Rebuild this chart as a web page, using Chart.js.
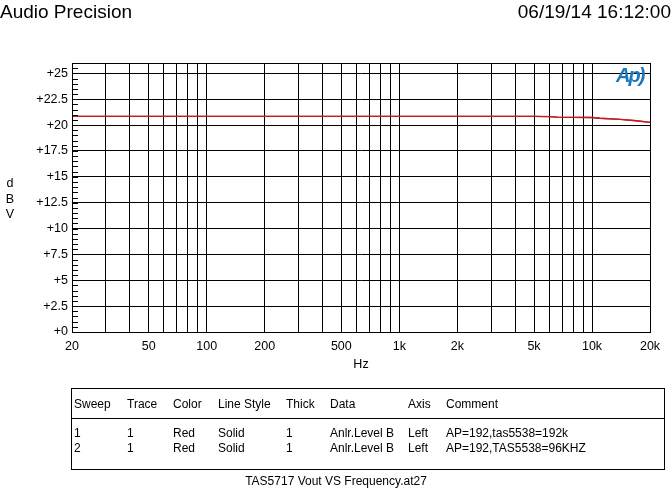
<!DOCTYPE html>
<html>
<head>
<meta charset="utf-8">
<script src="https://cdn.jsdelivr.net/npm/chart.js@4.4.1/dist/chart.umd.min.js"></script>
<style>
  html, body { margin:0; padding:0; background:#fff; }
  #wrap { position:relative; width:672px; height:494px; overflow:hidden; font-family:"Liberation Sans", Arial, sans-serif; color:#000; }
  canvas { position:absolute; left:0; top:0; }
  .abs { position:absolute; white-space:nowrap; line-height:1; }
  #hdrL { left:0; top:2px; font-size:19px; }
  #hdrR { right:1px; top:2px; font-size:19px; }
  #ylab { left:5px; top:176px; font-size:12.5px; line-height:15.5px; text-align:center; width:10px; }
  #logo { left:616px; top:65px; font-size:20px; font-style:italic; font-weight:bold; color:#1c78b8; letter-spacing:-2px; }
  #tbl { left:71px; top:388px; width:592px; height:80px; border:1px solid #000; }
  #tbl .sep { position:absolute; left:0; right:0; top:29px; border-top:1px solid #000; }
  #tbl .c { position:absolute; font-size:12px; white-space:nowrap; line-height:1; }
  #foot { left:0; width:672px; top:475px; text-align:center; font-size:12px; }
</style>
</head>
<body>
<div id="wrap">
  <canvas id="c" width="672" height="494"></canvas>
  <div class="abs" id="hdrL">Audio Precision</div>
  <div class="abs" id="hdrR">06/19/14 16:12:00</div>
  <div class="abs" id="ylab">d<br>B<br>V</div>
  <div class="abs" id="logo">Ap)</div>
  <div class="abs" id="tbl"></div>
  <div class="abs" id="foot">TAS5717 Vout VS Frequency.at27</div>
</div>
<script>
// ---- data ----
const freqs   = [20, 50, 100, 200, 500, 1000, 2000, 5000, 6000, 6600, 8000, 10000, 11000, 14000, 17000, 20000];
const sweep1  = [20.85, 20.85, 20.85, 20.85, 20.85, 20.85, 20.85, 20.84, 20.82, 20.76, 20.75, 20.73, 20.66, 20.55, 20.42, 20.27];
const sweep2  = [20.85, 20.85, 20.85, 20.85, 20.85, 20.85, 20.85, 20.84, 20.82, 20.76, 20.75, 20.73, 20.66, 20.55, 20.42, 20.27];
const xGrid   = [20,30,40,50,60,70,80,90,100,200,300,400,500,600,700,800,900,1000,2000,3000,4000,5000,6000,7000,8000,9000,10000,20000];
const xLabelVals = [20, 50, 100, 200, 500, 1000, 2000, 5000, 10000, 20000];
const xLabelTxt  = ["20","50","100","200","500","1k","2k","5k","10k","20k"];
const yTicks  = [0, 2.5, 5, 7.5, 10, 12.5, 15, 17.5, 20, 22.5, 25];
const yMinor  = 0.5;
const tableHead = ["Sweep","Trace","Color","Line Style","Thick","Data","Axis","Comment"];
const tableRows = [
  ["1","1","Red","Solid","1","Anlr.Level B","Left","AP=192,tas5538=192k"],
  ["2","1","Red","Solid","1","Anlr.Level B","Left","AP=192,TAS5538=96KHZ"]
];

// ---- table ----
const colX = [2, 55, 101, 146, 214, 258, 336, 374];
const tbl = document.getElementById('tbl');
function addCell(txt, x, y){ const d=document.createElement('div'); d.className='c'; d.textContent=txt; d.style.left=x+'px'; d.style.top=y+'px'; tbl.appendChild(d); }
tableHead.forEach((t,i)=>addCell(t, colX[i], 9));
const sep=document.createElement('div'); sep.className='sep'; tbl.appendChild(sep);
tableRows.forEach((r,ri)=>r.forEach((t,i)=>addCell(t, colX[i], 38+ri*15)));

// ---- chart ----
const frame = {
  id:'frame',
  afterDraw(chart){
    const {ctx, chartArea:a, scales:{y}} = chart;
    ctx.save();
    ctx.strokeStyle='#000'; ctx.lineWidth=1;
    ctx.strokeRect(Math.round(a.left)+0.5, Math.round(a.top)+0.5, Math.round(a.right-a.left), Math.round(a.bottom-a.top));
    ctx.beginPath();
    for(let v=y.min; v<=y.max+1e-9; v+=yMinor){
      const p = Math.round(y.getPixelForValue(v))+0.5;
      ctx.moveTo(a.left, p); ctx.lineTo(a.left+6, p);
    }
    ctx.stroke();
    ctx.restore();
  }
};
const red = '#c01e24';
const tickFont = {family:'"Liberation Sans", Arial, sans-serif', size:12.5};
new Chart(document.getElementById('c'), {
  type:'line',
  data:{ datasets:[
    { label:'Sweep 1', data:freqs.map((f,i)=>({x:f,y:sweep1[i]})), borderColor:red, borderWidth:1.3, pointRadius:0, tension:0, fill:false },
    { label:'Sweep 2', data:freqs.map((f,i)=>({x:f,y:sweep2[i]})), borderColor:red, borderWidth:1.3, pointRadius:0, tension:0, fill:false }
  ]},
  options:{
    responsive:false, animation:false, devicePixelRatio:1,
    layout:{ padding:{ left:0, right:22, top:63, bottom:122 } },
    plugins:{ legend:{display:false}, tooltip:{enabled:false}, title:{display:false} },
    scales:{
      x:{
        type:'logarithmic', min:20, max:20000,
        afterBuildTicks(s){ s.ticks = xGrid.map(v=>({value:v})); },
        afterFit(s){ s.height = 40; },
        grid:{ color:'#000', lineWidth:1, drawTicks:false },
        border:{ display:true, color:'#000', width:1 },
        ticks:{ autoSkip:false, maxRotation:0, minRotation:0, padding:7, color:'#000', font:tickFont,
          callback(v){ const k = xLabelVals.indexOf(v); return k>=0 ? xLabelTxt[k] : ''; } },
        title:{ display:true, text:'Hz', color:'#000', padding:{top:0,bottom:0}, font:tickFont }
      },
      y:{
        type:'linear', min:0, max:26,
        afterBuildTicks(s){ s.ticks = yTicks.map(v=>({value:v})); },
        afterFit(s){ s.width = 72; },
        grid:{ color:'#000', lineWidth:1, drawTicks:false },
        border:{ display:true, color:'#000', width:1 },
        ticks:{ padding:4, color:'#000', font:tickFont,
          callback(v){ return '+' + v; } }
      }
    }
  },
  plugins:[frame]
});
</script>
</body>
</html>
